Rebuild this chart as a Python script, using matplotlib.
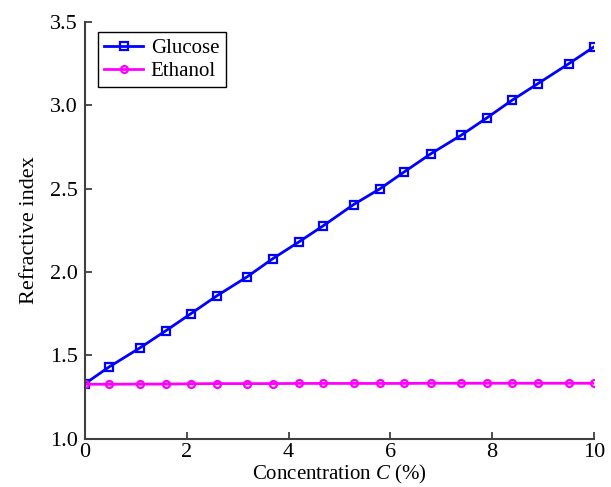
import matplotlib.pyplot as plt

plt.rcParams['font.family'] = ['Liberation Serif', 'DejaVu Serif']
plt.rcParams['mathtext.fontset'] = 'custom'
plt.rcParams['mathtext.it'] = 'Liberation Serif:italic'
plt.rcParams['mathtext.rm'] = 'Liberation Serif'

# concentration values (%)
conc = [0, 0.47, 1.08, 1.59, 2.08, 2.59, 3.18, 3.69, 4.2, 4.68,
        5.28, 5.8, 6.27, 6.8, 7.39, 7.9, 8.39, 8.9, 9.51, 10]

# refractive index of each solution
glucose = [1.33, 1.43, 1.545, 1.648, 1.75, 1.857, 1.97, 2.08, 2.18, 2.277,
           2.405, 2.50, 2.60, 2.71, 2.82, 2.925, 3.03, 3.13, 3.25, 3.35]
ethanol = [1.327, 1.327, 1.328, 1.328, 1.330, 1.331, 1.331, 1.331, 1.332, 1.332,
           1.332, 1.332, 1.332, 1.333, 1.333, 1.333, 1.333, 1.333, 1.333, 1.333]

fig = plt.figure(figsize=(6.11, 4.87), dpi=100)
ax = fig.add_axes([0.139, 0.099, 0.833, 0.856])

ax.plot(conc, glucose, color='#0000ff', linewidth=2, marker='s', markersize=5.5,
        markerfacecolor='none', markeredgewidth=1.6, label='Glucose')
ax.plot(conc, ethanol, color='#ff00ff', linewidth=2, marker='o', markersize=5,
        markerfacecolor='none', markeredgewidth=1.6, label='Ethanol')

ax.set_xlim(0, 10)
ax.set_ylim(1.0, 3.5)
ax.set_xticks([0, 2, 4, 6, 8, 10])
ax.set_yticks([1.0, 1.5, 2.0, 2.5, 3.0, 3.5])
ax.set_yticklabels(['1.0', '1.5', '2.0', '2.5', '3.0', '3.5'])

for side in ['top', 'right']:
    ax.spines[side].set_visible(False)
for side in ['left', 'bottom']:
    ax.spines[side].set_color('#404040')
    ax.spines[side].set_linewidth(1.5)

ax.tick_params(direction='in', length=5, width=1.3, color='#404040',
               labelsize=16, pad=5)
ax.tick_params(axis='x', pad=3)

ax.set_xlabel('Concentration $\\mathit{C}$ (%)', fontsize=15, labelpad=1)
ax.set_ylabel('Refractive index', fontsize=16, labelpad=8)

leg = ax.legend(loc='upper left', bbox_to_anchor=(0.025, 0.975), fontsize=15,
                fancybox=False, edgecolor='black', framealpha=1,
                handlelength=1.9, handletextpad=0.35, borderpad=0.3,
                labelspacing=0.15, borderaxespad=0)
leg.get_frame().set_linewidth(1.0)

fig.savefig('out.png', dpi=100)
